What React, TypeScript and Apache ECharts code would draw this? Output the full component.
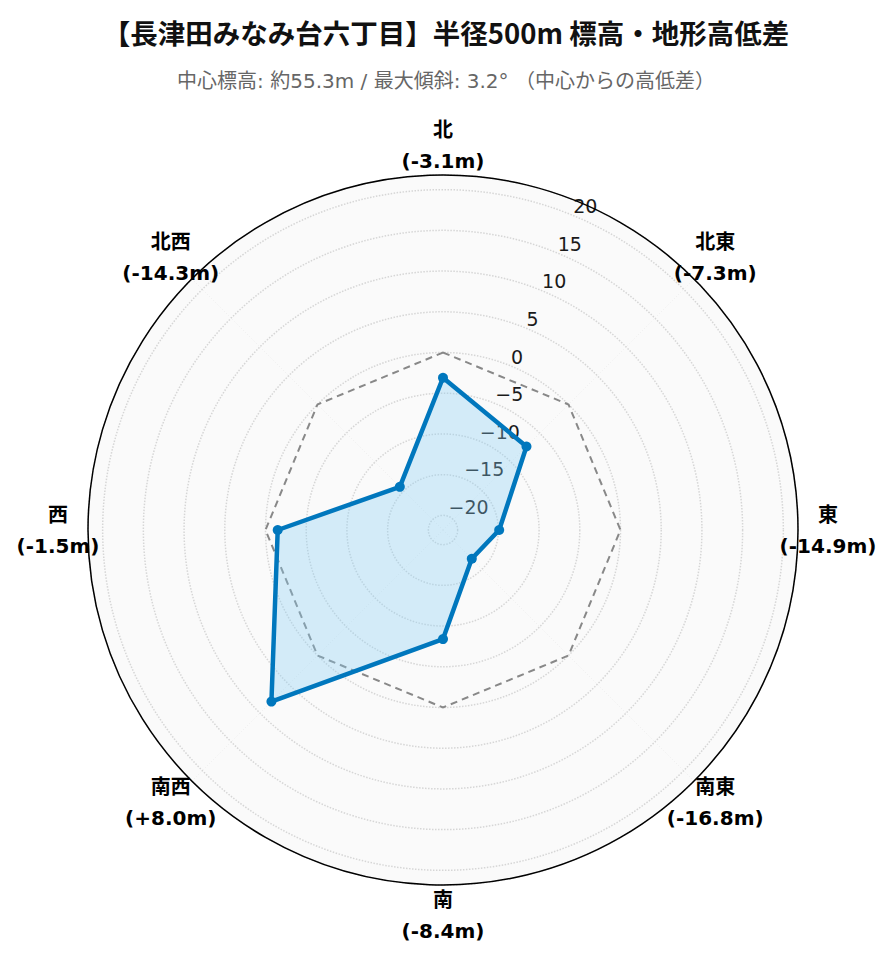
import React, { useEffect, useRef } from "react";
import * as echarts from "echarts";

const TITLE = "【長津田みなみ台六丁目】半径500m 標高・地形高低差";
const SUBTITLE = "中心標高: 約55.3m / 最大傾斜: 3.2° （中心からの高低差）";

const DIRECTIONS = ["北", "北東", "東", "南東", "南", "南西", "西", "北西"];
const ELEV_DIFFS = [-3.1, -7.3, -14.9, -16.8, -8.4, 8.0, -1.5, -14.3];
const REFERENCE = [0, 0, 0, 0, 0, 0, 0, 0];

const R_MIN = -21.8;
const R_MAX = 21.8;

const CENTER: [number, number] = [443, 530];
const RADIUS = 355;

const LINE_COLOR = "#0077bd";
const LABEL_FONT = "'DejaVu Sans', 'Noto Sans CJK JP', sans-serif";
const CJK_FONT = "'Noto Sans CJK JP', 'DejaVu Sans', sans-serif";

function fmtDiff(v: number): string {
  return (v >= 0 ? "+" : "-") + Math.abs(v).toFixed(1);
}

export default function App() {
  const ref = useRef<HTMLDivElement>(null);

  useEffect(() => {
    if (!ref.current) return;
    const chart = echarts.init(ref.current, null, { renderer: "svg" });

    chart.setOption({
      animation: false,
      backgroundColor: "#ffffff",
      title: [
        {
          text: TITLE,
          left: "center",
          top: 13,
          textStyle: { fontSize: 27.5, fontWeight: "bold", color: "#111", fontFamily: CJK_FONT },
        },
        {
          text: SUBTITLE,
          left: "center",
          top: 66,
          textStyle: { fontSize: 20, fontWeight: "normal", color: "#666", fontFamily: LABEL_FONT },
        },
      ],
      polar: [
        { center: CENTER, radius: RADIUS },
        { center: CENTER, radius: RADIUS },
      ],
      angleAxis: [
        {
          polarIndex: 0,
          type: "value",
          min: 0,
          max: 360,
          startAngle: 67.5,
          z: 3,
          axisLine: { show: true, lineStyle: { color: "#000", width: 1.5 } },
          axisTick: { show: false },
          axisLabel: { show: false },
          splitLine: { show: false },
        },
        {
          polarIndex: 1,
          type: "category",
          data: DIRECTIONS,
          startAngle: 90,
          boundaryGap: false,
          z: 0,
          axisLine: { show: false },
          axisTick: { show: false },
          axisLabel: { show: false },
          splitLine: { show: true, lineStyle: { color: "#d6d6d6", type: "dotted", width: 1.5 } },
          splitArea: { show: true, areaStyle: { color: ["#fafafa", "#fafafa"] } },
        },
      ],
      radiusAxis: [
        {
          polarIndex: 0,
          type: "value",
          min: R_MIN,
          max: R_MAX,
          splitNumber: 9,
          minInterval: 5,
          maxInterval: 5,
          z: 1,
          axisLine: { show: false },
          axisTick: { show: false },
          axisLabel: {
            show: true,
            showMinLabel: false,
            showMaxLabel: false,
            margin: 0,
            align: "left",
            verticalAlign: "bottom",
            fontSize: 19,
            color: "#1a1a1a",
            fontFamily: LABEL_FONT,
            formatter: (v: number) => (v < 0 ? "\u2212" + Math.abs(v) : String(v)),
          },
          splitLine: { show: true, lineStyle: { color: "#d6d6d6", type: "dotted", width: 1.5 } },
        },
        {
          polarIndex: 1,
          type: "value",
          min: R_MIN,
          max: R_MAX,
          show: false,
        },
      ],
      series: [
        {
          // dashed reference ring (0 m)
          type: "custom",
          coordinateSystem: "polar",
          polarIndex: 1,
          data: [[REFERENCE[0], 0]],
          z: 3,
          silent: true,
          renderItem: (params: any, api: any) => {
            const pts = REFERENCE.map((v, i) => api.coord([v, i]));
            return {
              type: "polygon",
              shape: { points: pts },
              style: { fill: "none", stroke: "#888888", lineWidth: 2, lineDash: [7, 5] },
            };
          },
        },
        {
          // filled elevation-difference polygon with outline
          type: "custom",
          coordinateSystem: "polar",
          polarIndex: 1,
          data: [[ELEV_DIFFS[0], 0]],
          z: 4,
          silent: true,
          renderItem: (params: any, api: any) => {
            const pts = ELEV_DIFFS.map((v, i) => api.coord([v, i]));
            return {
              type: "polygon",
              shape: { points: pts },
              style: {
                fill: "rgba(135, 206, 245, 0.33)",
                stroke: LINE_COLOR,
                lineWidth: 4.5,
                lineJoin: "round",
              },
            };
          },
        },
        {
          type: "scatter",
          coordinateSystem: "polar",
          polarIndex: 1,
          data: ELEV_DIFFS.map((v, i) => [v, i]),
          symbol: "circle",
          symbolSize: 10,
          z: 5,
          itemStyle: { color: LINE_COLOR, opacity: 1 },
        },
        {
          type: "custom",
          coordinateSystem: "polar",
          polarIndex: 1,
          data: DIRECTIONS.map((_, i) => [R_MAX, i]),
          z: 6,
          silent: true,
          renderItem: (params: any, api: any) => {
            const i = api.value(1) as number;
            const c = api.coord([R_MIN, i]);
            const e = api.coord([R_MAX, i]);
            const dx = e[0] - c[0];
            const dy = e[1] - c[1];
            const len = Math.hypot(dx, dy) || 1;
            const k = (len + 30) / len;
            return {
              type: "text",
              x: c[0] + dx * k,
              y: c[1] + dy * k,
              style: {
                text: `{a|${DIRECTIONS[i]}}\n{b|(${fmtDiff(ELEV_DIFFS[i])}m)}`,
                align: "center",
                verticalAlign: "middle",
                rich: {
                  a: { fontSize: 20, fontWeight: "bold", color: "#444", fontFamily: LABEL_FONT, lineHeight: 31, align: "center" },
                  b: { fontSize: 20, fontWeight: "bold", color: "#444", fontFamily: LABEL_FONT, lineHeight: 31, align: "center" },
                },
              },
            };
          },
        },
      ],
    });

    return () => chart.dispose();
  }, []);

  return (
    <div
      ref={ref}
      style={{ position: "absolute", left: 0, top: 0, width: 892, height: 962, background: "#fff" }}
    />
  );
}
